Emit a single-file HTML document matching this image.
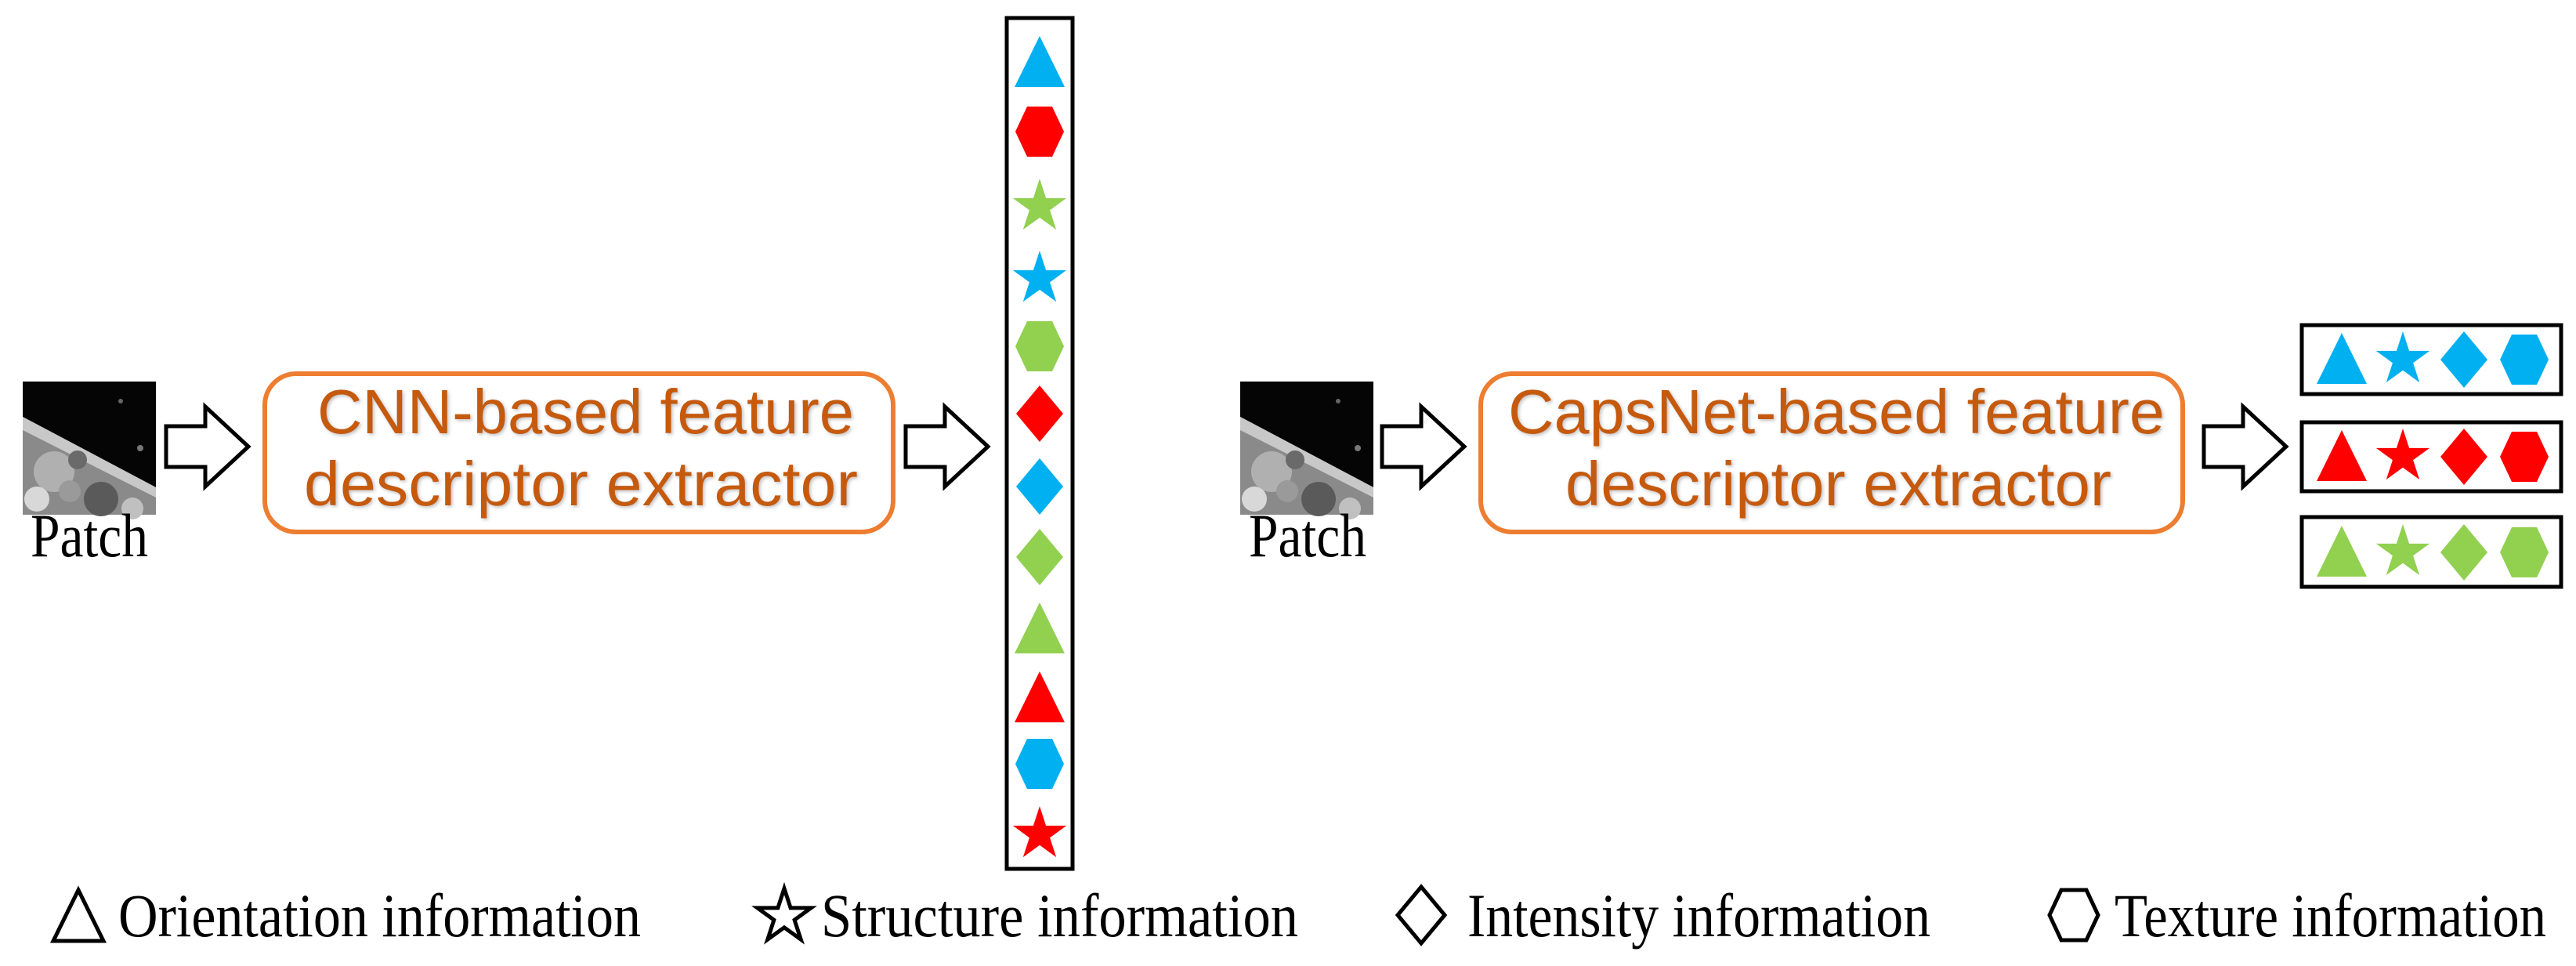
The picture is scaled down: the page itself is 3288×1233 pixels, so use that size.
<!DOCTYPE html>
<html><head><meta charset="utf-8"><style>
html,body{margin:0;padding:0;background:#fff}
svg{display:block}
.b{font-family:"Liberation Sans",sans-serif;font-size:80px;fill:#C55A11}
.t{font-family:"Liberation Serif",serif;font-size:78px;fill:#000}
</style></head><body>
<svg width="3288" height="1233" viewBox="0 0 3288 1233" xmlns="http://www.w3.org/2000/svg">
<defs>
<polygon id="tri" points="0,-34 32,31 -32,31"/>
<polygon id="hex" points="-31,0 -16,-32 16,-32 31,0 16,32 -16,32"/>
<polygon id="dia" points="0,-36 30,0 0,36 -30,0"/>
<polygon id="star" points="0,-36 8.1,-11.1 34.2,-11.1 13.1,4.2 21.2,29.1 0,13.8 -21.2,29.1 -13.1,4.2 -34.2,-11.1 -8.1,-11.1"/>
<g id="patch">
<rect x="0" y="0" width="170" height="170" fill="#050505"/>
<polygon points="0,45 170,135 170,170 0,170" fill="#8a8a8a"/>
<polygon points="0,45 170,135 170,148 0,62" fill="#c8c8c8"/>
<circle cx="40" cy="115" r="26" fill="#b0b0b0"/>
<circle cx="100" cy="150" r="22" fill="#5a5a5a"/>
<circle cx="18" cy="150" r="16" fill="#d8d8d8"/>
<circle cx="140" cy="162" r="14" fill="#c0c0c0"/>
<circle cx="70" cy="100" r="12" fill="#6a6a6a"/>
<circle cx="60" cy="140" r="14" fill="#9a9a9a"/>
<circle cx="125" cy="25" r="3" fill="#666"/>
<circle cx="150" cy="85" r="4" fill="#777"/>
</g>
<polygon id="arr" points="0,-26 50,-26 50,-51 105,0 50,51 50,26 0,26" fill="#fff" stroke="#000" stroke-width="5"/>
<filter id="sh"><feDropShadow dx="2" dy="2" stdDeviation="2" flood-color="#999" flood-opacity="0.6"/></filter>
</defs>

<use href="#patch" transform="translate(29,487)"/>
<text class="t" x="114" y="710" text-anchor="middle" textLength="150" lengthAdjust="spacingAndGlyphs">Patch</text>
<use href="#arr" transform="translate(212,570)"/>
<rect x="338" y="477" width="802" height="202" rx="40" fill="#fff" stroke="#ED7D31" stroke-width="6"/>
<text class="b" filter="url(#sh)" x="405" y="553" textLength="685" lengthAdjust="spacingAndGlyphs">CNN-based feature</text>
<text class="b" filter="url(#sh)" x="388" y="645" textLength="707" lengthAdjust="spacingAndGlyphs">descriptor extractor</text>
<use href="#arr" transform="translate(1156,570)"/>
<rect x="1285" y="23" width="84" height="1086" fill="#fff" stroke="#000" stroke-width="5"/>
<g transform="translate(1327,0)">
<use href="#tri" y="80" fill="#00B0F0"/>
<use href="#hex" y="168" fill="#FF0000"/>
<use href="#star" y="264" fill="#92D050"/>
<use href="#star" y="356" fill="#00B0F0"/>
<use href="#hex" y="442" fill="#92D050"/>
<use href="#dia" y="528" fill="#FF0000"/>
<use href="#dia" y="621" fill="#00B0F0"/>
<use href="#dia" y="711" fill="#92D050"/>
<use href="#tri" y="803" fill="#92D050"/>
<use href="#tri" y="891" fill="#FF0000"/>
<use href="#hex" y="975" fill="#00B0F0"/>
<use href="#star" y="1065" fill="#FF0000"/>
</g>

<use href="#patch" transform="translate(1583,487)"/>
<text class="t" x="1669" y="710" text-anchor="middle" textLength="150" lengthAdjust="spacingAndGlyphs">Patch</text>
<use href="#arr" transform="translate(1764,570)"/>
<rect x="1890" y="477" width="896" height="202" rx="40" fill="#fff" stroke="#ED7D31" stroke-width="6"/>
<text class="b" filter="url(#sh)" x="1925" y="553" textLength="838" lengthAdjust="spacingAndGlyphs">CapsNet-based feature</text>
<text class="b" filter="url(#sh)" x="1998" y="645" textLength="697" lengthAdjust="spacingAndGlyphs">descriptor extractor</text>
<use href="#arr" transform="translate(2813,570)"/>
<g stroke="#000" stroke-width="5" fill="#fff">
<rect x="2938" y="415" width="331" height="88"/>
<rect x="2938" y="539" width="331" height="88"/>
<rect x="2938" y="660" width="331" height="89"/>
</g>
<g fill="#00B0F0" transform="translate(0,459)"><use href="#tri" x="2989"/><use href="#star" x="3067"/><use href="#dia" x="3145"/><use href="#hex" x="3222"/></g>
<g fill="#FF0000" transform="translate(0,583)"><use href="#tri" x="2989"/><use href="#star" x="3067"/><use href="#dia" x="3145"/><use href="#hex" x="3222"/></g>
<g fill="#92D050" transform="translate(0,705)"><use href="#tri" x="2989"/><use href="#star" x="3067"/><use href="#dia" x="3145"/><use href="#hex" x="3222"/></g>

<g fill="none" stroke="#000" stroke-width="5">
<use href="#tri" transform="translate(100,1170)"/>
<use href="#star" transform="translate(1001,1170)"/>
<use href="#dia" transform="translate(1814,1168)"/>
<use href="#hex" transform="translate(2647,1168)"/>
</g>
<text class="t" x="151" y="1195" textLength="667" lengthAdjust="spacingAndGlyphs">Orientation information</text>
<text class="t" x="1048" y="1195" textLength="609" lengthAdjust="spacingAndGlyphs">Structure information</text>
<text class="t" x="1873" y="1195" textLength="591" lengthAdjust="spacingAndGlyphs">Intensity information</text>
<text class="t" x="2699" y="1195" textLength="551" lengthAdjust="spacingAndGlyphs">Texture information</text>
</svg>
</body></html>
